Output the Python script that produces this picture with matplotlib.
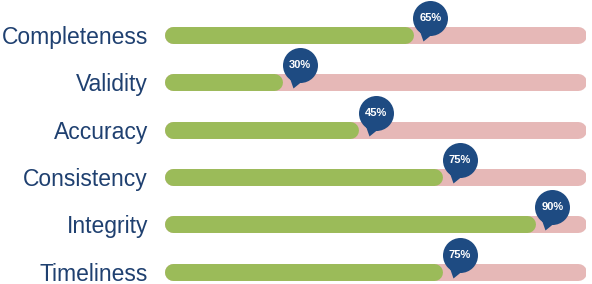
import matplotlib.pyplot as plt
import numpy as np
from matplotlib.path import Path

# data
categorias = ["Completeness", "Validity", "Accuracy", "Consistency", "Integrity", "Timeliness"]
etiquetas = [65, 30, 45, 75, 90, 75]          # text in the bubbles
relleno = [59, 28, 46, 66, 88, 66]            # length of the green part (% of track)

verde = "#9bbb59"
rosa = "#e6b8b7"
azul = "#1e4b82"
texto = "#1f4070"

fig = plt.figure(figsize=(5.92, 2.84), dpi=100)
ax = fig.add_axes([165 / 592, 0, 421 / 592, 1])
ax.set_xlim(0, 100)
ax.set_ylim(5.264, -0.74)

grosor = 12.2  # linewidth in pt (about 17 px)
# half of the round cap in data units
px_unidad = 421 / 100
cap = (grosor * 100 / 72) / 2 / px_unidad

filas = np.arange(len(categorias))
for y, r in zip(filas, relleno):
    ax.plot([cap, 100 - cap], [y, y], color=rosa, lw=grosor, solid_capstyle="round", zorder=1)
    ax.plot([cap, r - cap], [y, y], color=verde, lw=grosor, solid_capstyle="round", zorder=2)

# bubble marker (circle + small tail), origin at the end of the green bar, units in px, y up
cx, cy, rad = 17, 17, 17.5
circulo = Path.circle((cx, cy), rad)
cola = Path([(6.5, 4.0), (10, -6), (18.0, 0.5), (6.5, 4.0)],
            [Path.MOVETO, Path.LINETO, Path.LINETO, Path.CLOSEPOLY])
burbuja = Path.make_compound_path(circulo, cola)
maxv = np.max(np.abs(burbuja.vertices))
tam = 2 * maxv * 72 / 100  # marker size in points
ax.scatter(relleno, filas, marker=burbuja, s=tam ** 2, color=azul, linewidths=0, zorder=3)

for y, r, e in zip(filas, relleno, etiquetas):
    ax.annotate(f"{e}%", (r, y), xytext=(cx * 0.72, cy * 0.72), textcoords="offset points",
                ha="center", va="center", color="white", fontsize=8, fontweight="bold",
                family="Liberation Sans", zorder=4)

ax.set_yticks(filas, categorias)
ax.tick_params(axis="y", length=0, pad=12.2, labelsize=16.5, labelcolor=texto)
for t in ax.get_yticklabels():
    t.set_family("Liberation Sans")
ax.set_xticks([])
for s in ax.spines.values():
    s.set_visible(False)

fig.savefig("out.png", dpi=100)
